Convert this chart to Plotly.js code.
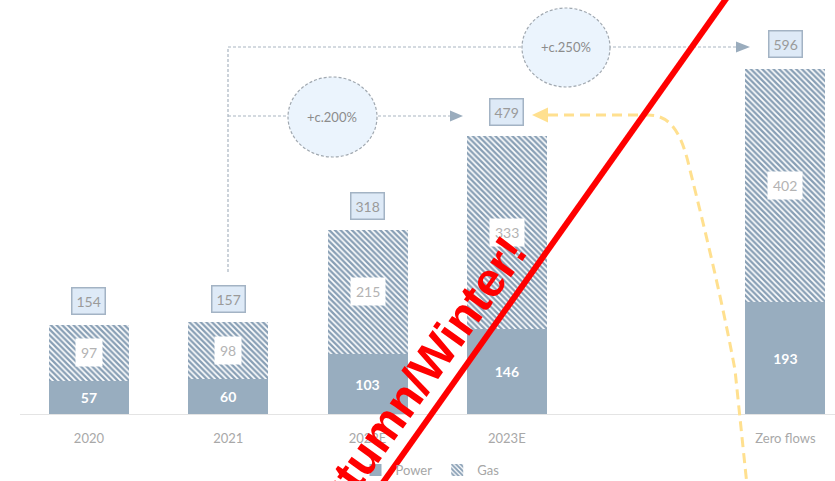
<!DOCTYPE html>
<html>
<head>
<meta charset="utf-8">
<script src="https://cdn.plot.ly/plotly-3.0.1.min.js"></script>
<style>html,body{margin:0;padding:0;background:#fff}#chart{width:835px;height:481px}</style>
</head>
<body>
<div id="chart"></div>
<script>
// ---- data ----
const categories = ['2020', '2021', '2022E', '2023E', 'Zero flows'];
const power = [57, 60, 103, 146, 193];
const gas = [97, 98, 215, 333, 402];
const totals = [154, 157, 318, 479, 596];
const growthLabels = ['+c.200%', '+c.250%'];
const watermark = 'Autumn/Winter!';
const seriesNames = ['Power', 'Gas'];

// ---- styling / helpers ----
const FONT = 'Lato, "Open Sans", sans-serif';
const W = 835, H = 481, ML = 20, MR = 0, MT = 0, MB = 67;
const PW = W - ML - MR, PH = H - MT - MB;
const fx = p => (p - ML) / PW;
const fy = p => (H - MB - p) / PH;
const pathFrom = pts => pts.map((p, i) => {
  if (p[0] === 'C') return 'C' + p.slice(1).map(q => fx(q[0]) + ',' + fy(q[1])).join(' ');
  return (i === 0 ? 'M' : 'L') + fx(p[0]) + ',' + fy(p[1]);
}).join(' ');

const axisCats = ['2020', '2021', '2022E', '2023E', ' ', 'Zero flows'];
const catIndex = c => axisCats.indexOf(c);

const powerColor = '#98adbf';
const traces = [
  {
    type: 'bar', name: seriesNames[0], x: categories, y: power,
    marker: {color: powerColor, line: {width: 0}},
    text: power.map(String), textposition: 'inside', insidetextanchor: 'middle',
    textangle: 0, constraintext: 'none',
    textfont: {color: '#ffffff', size: 14, family: FONT, weight: 'bold'},
    hoverinfo: 'skip'
  },
  {
    type: 'bar', name: seriesNames[1], x: categories, y: gas,
    marker: {color: '#ffffff', line: {width: 0},
      pattern: {shape: '\\', fgcolor: '#889fb5', bgcolor: '#ffffff', size: 4, solidity: 0.58}},
    hoverinfo: 'skip'
  },
  {type: 'scatter', x: [' '], y: [null], showlegend: false, hoverinfo: 'skip', mode: 'markers'}
];

const annotations = [];
categories.forEach((c, i) => {
  annotations.push({
    x: catIndex(c), y: power[i] + gas[i] / 2, xref: 'x', yref: 'y', showarrow: false,
    xanchor: 'center', yanchor: 'middle',
    text: String(gas[i]), bgcolor: '#ffffff', borderpad: 5,
    font: {family: FONT, size: 14, color: '#b3b3b3'}
  });
  annotations.push({
    x: catIndex(c), y: totals[i], xref: 'x', yref: 'y', yshift: 24, showarrow: false,
    xanchor: 'center', yanchor: 'middle',
    text: String(totals[i]), bgcolor: '#deeaf7', bordercolor: '#a3b3c4', borderwidth: 1.5, borderpad: 4,
    font: {family: FONT, size: 14, color: '#9a9a9a'}
  });
});
annotations.push({xref: 'paper', yref: 'paper', x: fx(332), y: fy(117), xanchor: 'center', yanchor: 'middle',
  showarrow: false, text: growthLabels[0], font: {family: FONT, size: 13, color: '#8c8c8c'}});
annotations.push({xref: 'paper', yref: 'paper', x: fx(566), y: fy(47), xanchor: 'center', yanchor: 'middle',
  showarrow: false, text: growthLabels[1], font: {family: FONT, size: 13, color: '#8c8c8c'}});
annotations.push({xref: 'paper', yref: 'paper', x: fx(411), y: fy(388), xanchor: 'center', yanchor: 'middle',
  showarrow: false, text: watermark, textangle: -54.5,
  font: {family: '"Liberation Sans", Arial, sans-serif', size: 48, color: '#ff0000', weight: 'bold'}});

const dashGray = {color: '#a9b5c1', width: 1.2, dash: '3px,2px'};
const shapes = [
  {type: 'line', xref: 'paper', yref: 'paper', x0: fx(228), y0: fy(272), x1: fx(228), y1: fy(47), line: dashGray},
  {type: 'line', xref: 'paper', yref: 'paper', x0: fx(228), y0: fy(47), x1: fx(738), y1: fy(47), line: dashGray},
  {type: 'line', xref: 'paper', yref: 'paper', x0: fx(228), y0: fy(116), x1: fx(452), y1: fy(116), line: dashGray},
  {type: 'path', xref: 'paper', yref: 'paper', path: pathFrom([[736, 41.5], [750, 47], [736, 52.5]]) + ' Z',
    fillcolor: '#9aacbd', line: {width: 0}},
  {type: 'path', xref: 'paper', yref: 'paper', path: pathFrom([[450, 110.5], [463, 116], [450, 121.5]]) + ' Z',
    fillcolor: '#9aacbd', line: {width: 0}},
  {type: 'circle', xref: 'paper', yref: 'paper', x0: fx(522), x1: fx(610), y0: fy(8), y1: fy(87),
    fillcolor: '#ebf4fd', line: {color: '#a0a8b0', width: 1.2, dash: '3px,2px'}},
  {type: 'circle', xref: 'paper', yref: 'paper', x0: fx(288), x1: fx(377), y0: fy(77), y1: fy(157),
    fillcolor: '#ebf4fd', line: {color: '#a0a8b0', width: 1.2, dash: '3px,2px'}},
  // yellow dashed curve
  {type: 'path', xref: 'paper', yref: 'paper',
    path: pathFrom([[548, 115], [648, 115], ['C', [672, 115], [682, 135], [690, 170]], ['C', [705, 230], [722, 300], [735, 370]], [748, 495]]),
    line: {color: '#ffe08f', width: 3, dash: '10px,6px'}},
  {type: 'path', xref: 'paper', yref: 'paper', path: pathFrom([[548, 107.5], [532, 115], [548, 122.5]]) + ' Z',
    fillcolor: '#ffe08f', line: {width: 0}},
  // red diagonal line
  {type: 'line', xref: 'paper', yref: 'paper', x0: fx(733), y0: fy(-11), x1: fx(372), y1: fy(498),
    line: {color: '#ff0000', width: 6}}
];

const layout = {
  width: W, height: H,
  margin: {l: ML, r: MR, t: MT, b: MB, pad: 0, autoexpand: false},
  paper_bgcolor: '#ffffff', plot_bgcolor: '#ffffff',
  barmode: 'stack', bargap: 0.426,
  font: {family: FONT, color: '#a6a6a6'},
  xaxis: {
    type: 'category', categoryorder: 'array', categoryarray: axisCats,
    range: [-0.495, 5.356], showline: true, linecolor: '#e4e4e4', linewidth: 1,
    ticks: '', showgrid: false, zeroline: false, ticklabelstandoff: 12,
    tickfont: {family: FONT, size: 13, color: '#a8a8a8'}, fixedrange: true
  },
  yaxis: {range: [0, 714], visible: false, showgrid: false, zeroline: false, fixedrange: true},
  showlegend: true,
  legend: {orientation: 'h', x: fx(430), xanchor: 'center', y: fy(470), yanchor: 'middle',
    font: {family: FONT, size: 13, color: '#a6a6a6'}, itemwidth: 30, tracegroupgap: 0,
    traceorder: 'normal', bgcolor: 'rgba(0,0,0,0)'},
  annotations: annotations,
  shapes: shapes
};

Plotly.newPlot('chart', traces, layout, {displayModeBar: false, staticPlot: true});
</script>
</body>
</html>
